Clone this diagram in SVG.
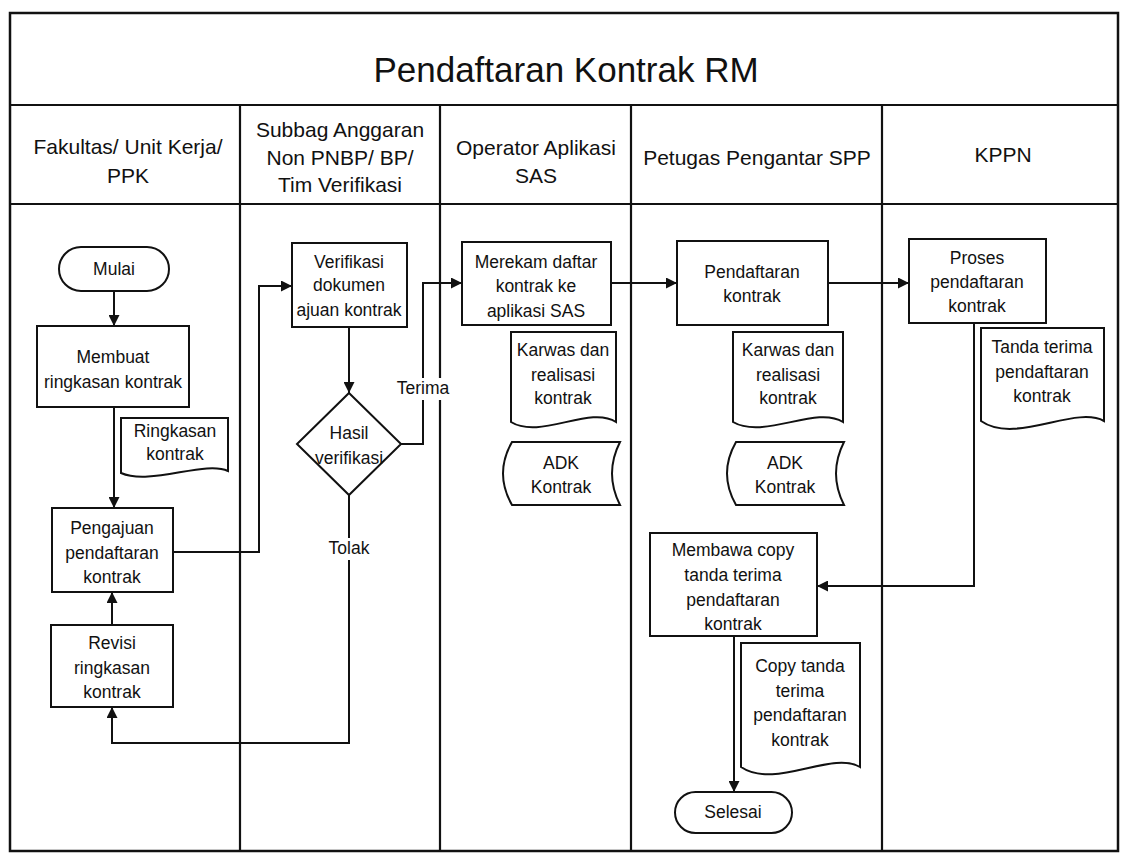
<svg xmlns="http://www.w3.org/2000/svg" width="1122" height="854" viewBox="0 0 1122 854">
  <style>
    .frame { fill: none; stroke: #111; stroke-width: 2.5; }
    .lane { stroke: #111; stroke-width: 2.2; }
    .shape { fill: #fff; stroke: #111; stroke-width: 2; }
    .conn { fill: none; stroke: #111; stroke-width: 2; }
    text { font-family: "Liberation Sans", Arial, sans-serif; fill: #111; text-anchor: middle; }
    .title { font-size: 35px; }
    .head { font-size: 21px; }
    .t { font-size: 17.5px; }
    .bg { fill: #fff; }
  </style>
  <defs>
    <marker id="arrow" viewBox="0 0 10 10" refX="10" refY="5" markerWidth="11" markerHeight="11" markerUnits="userSpaceOnUse" orient="auto">
      <path d="M0,0 L10,5 L0,10 Z" fill="#111"/>
    </marker>
  </defs>
  <rect width="1122" height="854" fill="#fff"/>

  <!-- swimlane frame -->
  <g id="frame">
    <rect class="frame" x="10" y="13" width="1108" height="838"/>
    <line class="lane" x1="10" y1="105" x2="1118" y2="105"/>
    <line class="lane" x1="10" y1="204" x2="1118" y2="204"/>
    <line class="lane" x1="240" y1="105" x2="240" y2="851"/>
    <line class="lane" x1="440" y1="105" x2="440" y2="851"/>
    <line class="lane" x1="631" y1="105" x2="631" y2="851"/>
    <line class="lane" x1="882" y1="105" x2="882" y2="851"/>
    <text class="title" x="566" y="82">Pendaftaran Kontrak RM</text>
    <text class="head" x="128" y="154">Fakultas/ Unit Kerja/</text>
    <text class="head" x="128" y="183">PPK</text>
    <text class="head" x="340" y="137">Subbag Anggaran</text>
    <text class="head" x="340" y="165">Non PNBP/ BP/</text>
    <text class="head" x="340" y="192">Tim Verifikasi</text>
    <text class="head" x="536" y="155">Operator Aplikasi</text>
    <text class="head" x="536" y="183">SAS</text>
    <text class="head" x="757" y="165">Petugas Pengantar SPP</text>
    <text class="head" x="1003" y="162">KPPN</text>
  </g>

  <!-- connectors -->
  <g id="connectors">
    <path class="conn" d="M114,291 V326" marker-end="url(#arrow)"/>
    <path class="conn" d="M114,407 V508" marker-end="url(#arrow)"/>
    <path class="conn" d="M173,552 H259 V286 H292" marker-end="url(#arrow)"/>
    <path class="conn" d="M349,327 V393" marker-end="url(#arrow)"/>
    <path class="conn" d="M401,444 H423 V283 H462" marker-end="url(#arrow)"/>
    <path class="conn" d="M349,495 V743 H112 V707" marker-end="url(#arrow)"/>
    <path class="conn" d="M112,625 V592" marker-end="url(#arrow)"/>
    <path class="conn" d="M611,283 H677" marker-end="url(#arrow)"/>
    <path class="conn" d="M828,283 H909" marker-end="url(#arrow)"/>
    <path class="conn" d="M974,323 V586 H817" marker-end="url(#arrow)"/>
    <path class="conn" d="M734,636 V792" marker-end="url(#arrow)"/>
    <rect class="bg" x="396" y="378" width="54" height="22"/>
    <text class="t" x="423" y="394">Terima</text>
    <rect class="bg" x="328" y="538" width="42" height="22"/>
    <text class="t" x="349" y="554">Tolak</text>
  </g>

  <g id="mulai">
    <rect class="shape" x="59" y="247" width="110" height="44" rx="22"/>
    <text class="t" x="114" y="275">Mulai</text>
  </g>
  <g id="membuat-ringkasan">
    <rect class="shape" x="37" y="326" width="152" height="81"/>
    <text class="t" x="113" y="363">Membuat</text>
    <text class="t" x="113" y="388">ringkasan kontrak</text>
  </g>
  <g id="doc-ringkasan">
    <path class="shape" d="M121,418 H228 V471 C205,460 150,486 121,473 Z"/>
    <text class="t" x="175" y="437">Ringkasan</text>
    <text class="t" x="175" y="460">kontrak</text>
  </g>
  <g id="pengajuan">
    <rect class="shape" x="52" y="508" width="121" height="84"/>
    <text class="t" x="112" y="534">Pengajuan</text>
    <text class="t" x="112" y="559">pendaftaran</text>
    <text class="t" x="112" y="583">kontrak</text>
  </g>
  <g id="revisi">
    <rect class="shape" x="51" y="625" width="122" height="82"/>
    <text class="t" x="112" y="649">Revisi</text>
    <text class="t" x="112" y="674">ringkasan</text>
    <text class="t" x="112" y="698">kontrak</text>
  </g>
  <g id="verifikasi">
    <rect class="shape" x="292" y="243" width="115" height="84"/>
    <text class="t" x="349" y="268">Verifikasi</text>
    <text class="t" x="349" y="291">dokumen</text>
    <text class="t" x="349" y="316">ajuan kontrak</text>
  </g>
  <g id="hasil-verifikasi">
    <path class="shape" d="M349,393 L401,444 L349,495 L297,444 Z"/>
    <text class="t" x="349" y="439">Hasil</text>
    <text class="t" x="349" y="464">verifikasi</text>
  </g>
  <g id="merekam">
    <rect class="shape" x="462" y="242" width="149" height="83"/>
    <text class="t" x="536" y="268">Merekam daftar</text>
    <text class="t" x="536" y="292">kontrak ke</text>
    <text class="t" x="536" y="317">aplikasi SAS</text>
  </g>
  <g id="doc-karwas-sas">
    <path class="shape" d="M511,332 H616 V422 C590,405 540,440 511,422 Z"/>
    <text class="t" x="563" y="356">Karwas dan</text>
    <text class="t" x="563" y="381">realisasi</text>
    <text class="t" x="563" y="404">kontrak</text>
  </g>
  <g id="adk-sas">
    <path class="shape" d="M512,442 H620 Q604,473.5 620,505 H512 Q494,473.5 512,442 Z"/>
    <text class="t" x="561" y="469">ADK</text>
    <text class="t" x="561" y="493">Kontrak</text>
  </g>
  <g id="pendaftaran">
    <rect class="shape" x="677" y="241" width="151" height="84"/>
    <text class="t" x="752" y="278">Pendaftaran</text>
    <text class="t" x="752" y="302">kontrak</text>
  </g>
  <g id="doc-karwas-spp">
    <path class="shape" d="M733,332 H843 V422 C816,405 764,440 733,422 Z"/>
    <text class="t" x="788" y="356">Karwas dan</text>
    <text class="t" x="788" y="381">realisasi</text>
    <text class="t" x="788" y="404">kontrak</text>
  </g>
  <g id="adk-spp">
    <path class="shape" d="M736,442 H844 Q828,473.5 844,505 H736 Q718,473.5 736,442 Z"/>
    <text class="t" x="785" y="469">ADK</text>
    <text class="t" x="785" y="493">Kontrak</text>
  </g>
  <g id="proses">
    <rect class="shape" x="909" y="239" width="137" height="84"/>
    <text class="t" x="977" y="264">Proses</text>
    <text class="t" x="977" y="288">pendaftaran</text>
    <text class="t" x="977" y="312">kontrak</text>
  </g>
  <g id="doc-tanda-terima">
    <path class="shape" d="M981,328 H1104 V421 C1075,405 1015,445 981,421 Z"/>
    <text class="t" x="1042" y="353">Tanda terima</text>
    <text class="t" x="1042" y="378">pendaftaran</text>
    <text class="t" x="1042" y="402">kontrak</text>
  </g>
  <g id="membawa">
    <rect class="shape" x="650" y="533" width="167" height="103"/>
    <text class="t" x="733" y="556">Membawa copy</text>
    <text class="t" x="733" y="581">tanda terima</text>
    <text class="t" x="733" y="606">pendaftaran</text>
    <text class="t" x="733" y="630">kontrak</text>
  </g>
  <g id="doc-copy">
    <path class="shape" d="M741,643 H860 V767 C832,750 775,790 741,767 Z"/>
    <text class="t" x="800" y="672">Copy tanda</text>
    <text class="t" x="800" y="697">terima</text>
    <text class="t" x="800" y="721">pendaftaran</text>
    <text class="t" x="800" y="746">kontrak</text>
  </g>
  <g id="selesai">
    <rect class="shape" x="675" y="792" width="117" height="41" rx="20.5"/>
    <text class="t" x="733" y="818">Selesai</text>
  </g>
</svg>
